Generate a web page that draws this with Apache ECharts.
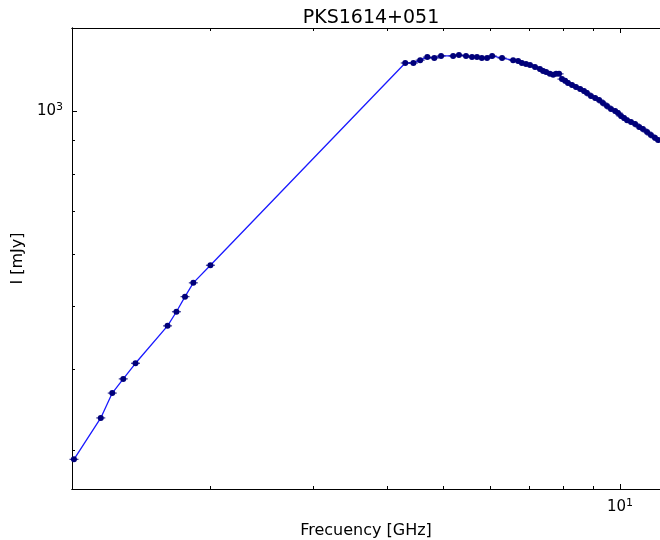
<!DOCTYPE html>
<html>
<head>
<meta charset="utf-8">
<script src="https://cdn.jsdelivr.net/npm/echarts@6/dist/echarts.min.js"></script>
<style>html,body{margin:0;padding:0;background:#fff}#c{width:660px;height:540px}</style>
</head>
<body>
<div id="c"></div>
<script>
var frequency = [1.17,1.30,1.36,1.42,1.49,1.69,1.75,1.81,1.87,2.00,
  4.30,4.44,4.56,4.69,4.82,4.95,5.19,5.31,5.46,5.59,5.70,5.81,5.93,6.05,6.29,
  6.57,6.70,6.80,6.91,7.02,7.16,7.30,7.39,7.48,7.59,7.69,7.78,7.87,7.96,8.06,
  8.15,8.28,8.41,8.55,8.68,8.78,8.92,9.07,9.21,9.35,9.50,9.65,9.81,9.92,10.04,
  10.16,10.28,10.44,10.61,10.78,10.94,11.12,11.29,11.47,11.61];
var intensity = [290,336,367,386,408,466,490,517,543,578,
  1186,1186,1198,1211,1207,1216,1216,1220,1216,1211,1211,1207,1207,1216,1207,
  1198,1194,1186,1182,1178,1169,1161,1153,1149,1141,1137,1141,1141,1120,1113,
  1105,1097,1089,1081,1074,1066,1055,1047,1040,1029,1018,1007,1000,993,982,
  975,968,962,955,945,938,928,918,909,902];
var xMajorTicks = [10];
var xMinorTicks = [2,3,4,5,6,7,8,9];
var yMajorTicks = [1000];
var yMinorTicks = [300,400,500,600,700,800,900];

var data = frequency.map(function(f,i){ return [f, intensity[i]]; });
var X_MIN = 1.161, X_MAX = 11.70, Y_MIN = 261, Y_MAX = 1343;
var FONT = 'DejaVu Sans';
function supLabel(v){ return '{b|10}{s|' + Math.round(Math.log10(v)) + '}'; }
var rich = {b:{fontFamily:FONT,fontSize:15,color:'#000'}, s:{fontFamily:FONT,fontSize:11,color:'#000',verticalAlign:'top',padding:[0,0,8,0]}};

function xAx(pos, ticks, len, labels, extra){
  var a = {type:'log', logBase:10, min:X_MIN, max:X_MAX, position:pos, gridIndex:0,
    axisLine:{show:true, onZero:false, lineStyle:{color:'#000', width:1}},
    axisTick:{show:true, inside:true, length:len, customValues:ticks, lineStyle:{color:'#000', width:1}},
    axisLabel:{show:labels, customValues:ticks, formatter:supLabel, rich:rich, margin:9},
    splitLine:{show:false}, minorTick:{show:false}};
  for (var k in extra) a[k] = extra[k];
  return a;
}
function yAx(ticks, len, labels, extra){
  var a = {type:'log', logBase:10, min:Y_MIN, max:Y_MAX, position:'left', gridIndex:0,
    axisLine:{show:true, onZero:false, lineStyle:{color:'#000', width:1}},
    axisTick:{show:true, inside:true, length:len, customValues:ticks, lineStyle:{color:'#000', width:1}},
    axisLabel:{show:labels, customValues:ticks, formatter:supLabel, rich:rich, margin:9},
    splitLine:{show:false}, minorTick:{show:false}};
  for (var k in extra) a[k] = extra[k];
  return a;
}

var chart = echarts.init(document.getElementById('c'), null, {renderer:'canvas'});
chart.setOption({
  animation:false,
  backgroundColor:'#fff',
  title:{text:'PKS1614+051', left:366, top:4, textAlign:'center',
    textStyle:{fontFamily:FONT, fontSize:19, fontWeight:'normal', color:'#000'}},
  grid:{left:72, top:28, bottom:51, right:0, containLabel:false, outerBoundsMode:'none'},
  xAxis:[
    xAx('bottom', xMajorTicks, 5, true, {name:'Frecuency [GHz]', nameLocation:'middle', nameGap:34,
      nameTextStyle:{fontFamily:FONT, fontSize:16, color:'#000'}}),
    xAx('bottom', xMinorTicks, 3, false, {}),
    xAx('top', xMajorTicks, 5, false, {}),
    xAx('top', xMinorTicks, 3, false, {})
  ],
  yAxis:[
    yAx(yMajorTicks, 5, true, {name:'I [mJy]', nameLocation:'middle', nameGap:44, nameRotate:90,
      nameTextStyle:{fontFamily:FONT, fontSize:16, color:'#000'}}),
    yAx(yMinorTicks, 3, false, {})
  ],
  series:[
    {type:'line', xAxisIndex:0, yAxisIndex:0, data:data, clip:true,
      lineStyle:{color:'#1a1aff', width:1.3}, symbol:'circle', symbolSize:6, showSymbol:true,
      itemStyle:{color:'#00007a', borderWidth:0}, z:3},
    {type:'scatter', xAxisIndex:0, yAxisIndex:0, data:data, clip:true,
      symbol:'rect', symbolSize:[9,1.2], itemStyle:{color:'#00007a'}, z:4}
  ]
});
</script>
</body>
</html>
